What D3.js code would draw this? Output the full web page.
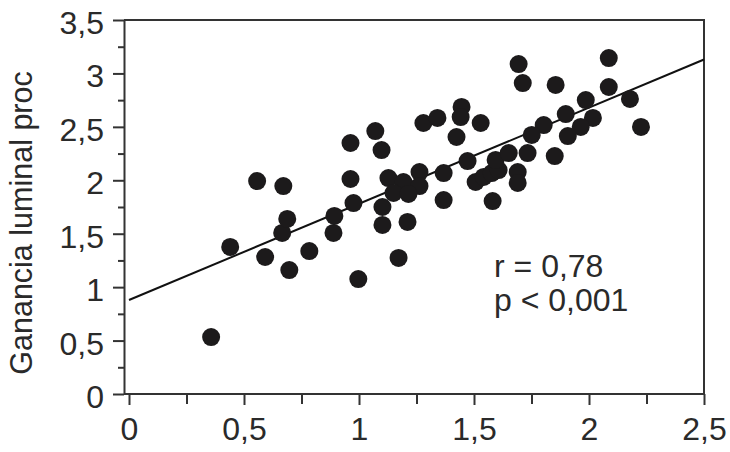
<!DOCTYPE html>
<html>
<head>
<meta charset="utf-8">
<script src="https://cdn.jsdelivr.net/npm/d3@7"></script>
<style>
  html, body { margin: 0; padding: 0; background: #fff; }
  svg text { font-family: "Liberation Sans Narrow", "Arial Narrow", "Liberation Sans", sans-serif; fill: #2a2a2a; }
</style>
</head>
<body>
<svg id="chart" width="730" height="452"></svg>
<script>
// Data
const xValues = [0.357,0.440,0.557,0.592,0.671,0.666,0.688,0.697,0.784,0.893,0.889,0.963,0.963,0.976,0.997,
  1.071,1.098,1.102,1.102,1.172,1.211,1.128,1.193,1.263,1.263,1.150,1.215,1.368,1.368,1.280,1.341,1.446,1.442,
  1.424,1.529,1.472,1.507,1.542,1.577,1.607,1.594,1.651,1.690,1.690,1.581,1.694,1.712,1.855,2.086,2.086,1.986,
  2.178,2.226,1.899,2.017,1.964,1.908,1.803,1.751,1.733,1.851];
const yValues = [0.533,1.376,1.993,1.282,1.946,1.507,1.638,1.160,1.338,1.666,1.507,2.349,2.012,1.787,1.076,
  2.461,2.283,1.750,1.582,1.273,1.610,2.021,1.984,2.077,1.946,1.881,1.872,2.068,1.815,2.536,2.583,2.686,2.592,
  2.405,2.536,2.180,1.984,2.031,2.068,2.096,2.190,2.255,2.077,1.975,1.806,3.088,2.910,2.892,3.144,2.873,2.751,
  2.761,2.499,2.620,2.583,2.499,2.414,2.517,2.424,2.255,2.227];
const fitX = [0, 2.5];
const fitY = [0.88, 3.13];
const xTicks = [0, 0.5, 1, 1.5, 2, 2.5];
const xTickLabels = ["0", "0,5", "1", "1,5", "2", "2,5"];
const xMinorTicks = [0.25, 0.75, 1.25, 1.75, 2.25];
const yTicks = [0, 0.5, 1, 1.5, 2, 2.5, 3, 3.5];
const yTickLabels = ["0", "0,5", "1", "1,5", "2", "2,5", "3", "3,5"];
const yMinorTicks = [0.25, 0.75, 1.25, 1.75, 2.25, 2.75, 3.25];
const yTitle = "Ganancia luminal proc";
const statLines = ["r = 0,78", "p < 0,001"];

const svg = d3.select("#chart");
const x = d3.scaleLinear().domain([0, 2.5]).range([129, 704]);
const y = d3.scaleLinear().domain([0, 3.5]).range([394, 20]);
const boxLeft = 124, boxRight = 704, boxTop = 20, boxBottom = 394;
const axisColor = "#333";
const fontFam = '"Liberation Sans Narrow", "Arial Narrow", sans-serif';

// frame (top and right)
svg.append("path")
  .attr("d", `M${boxLeft},${boxTop}H${boxRight}V${boxBottom}`)
  .attr("fill", "none").attr("stroke", axisColor).attr("stroke-width", 2);

// x axis
const xAxis = d3.axisBottom(x).tickValues(xTicks).tickSize(11).tickSizeOuter(0)
  .tickFormat((d, i) => xTickLabels[i]);
const gx = svg.append("g").attr("transform", `translate(0,${boxBottom})`).call(xAxis);
gx.select(".domain").attr("d", `M${boxLeft},0H${boxRight}`);
const gxm = svg.append("g").attr("transform", `translate(0,${boxBottom})`)
  .call(d3.axisBottom(x).tickValues(xMinorTicks).tickSize(10).tickFormat(""));
gxm.select(".domain").remove();

// y axis
const yAxis = d3.axisLeft(y).tickValues(yTicks).tickSize(11).tickSizeOuter(0)
  .tickFormat((d, i) => yTickLabels[i]);
const gy = svg.append("g").attr("transform", `translate(${boxLeft},0)`).call(yAxis);
const gym = svg.append("g").attr("transform", `translate(${boxLeft},0)`)
  .call(d3.axisLeft(y).tickValues(yMinorTicks).tickSize(6).tickFormat(""));
gym.select(".domain").remove();

[gx, gxm, gy, gym].forEach(g => {
  g.selectAll("path, line").attr("stroke", axisColor).attr("stroke-width", 2);
});
gx.selectAll("text").attr("font-size", 32).attr("dy", null).attr("y", 46)
  .attr("font-family", fontFam).attr("fill", "#2a2a2a");
gy.selectAll("text").attr("font-size", 32).attr("x", -20).attr("dy", "0.42em")
  .attr("font-family", fontFam).attr("fill", "#2a2a2a");

// y title
svg.append("text")
  .attr("transform", "translate(32,223) rotate(-90)")
  .attr("text-anchor", "middle")
  .attr("font-size", 30.5)
  .text(yTitle);

// regression line
svg.append("line")
  .attr("x1", x(fitX[0])).attr("y1", y(fitY[0]))
  .attr("x2", x(fitX[1])).attr("y2", y(fitY[1]))
  .attr("stroke", "#111").attr("stroke-width", 2);

// points
const pts = xValues.map((v, i) => [v, yValues[i]]);
svg.append("g").selectAll("circle").data(pts).join("circle")
  .attr("cx", d => x(d[0])).attr("cy", d => y(d[1])).attr("r", 9)
  .attr("fill", "#1c1a1b");

// stats
svg.append("g").selectAll("text").data(statLines).join("text")
  .attr("x", 494).attr("y", (d, i) => 277 + i * 34)
  .attr("font-size", 32)
  .text(d => d);
</script>
</body>
</html>
